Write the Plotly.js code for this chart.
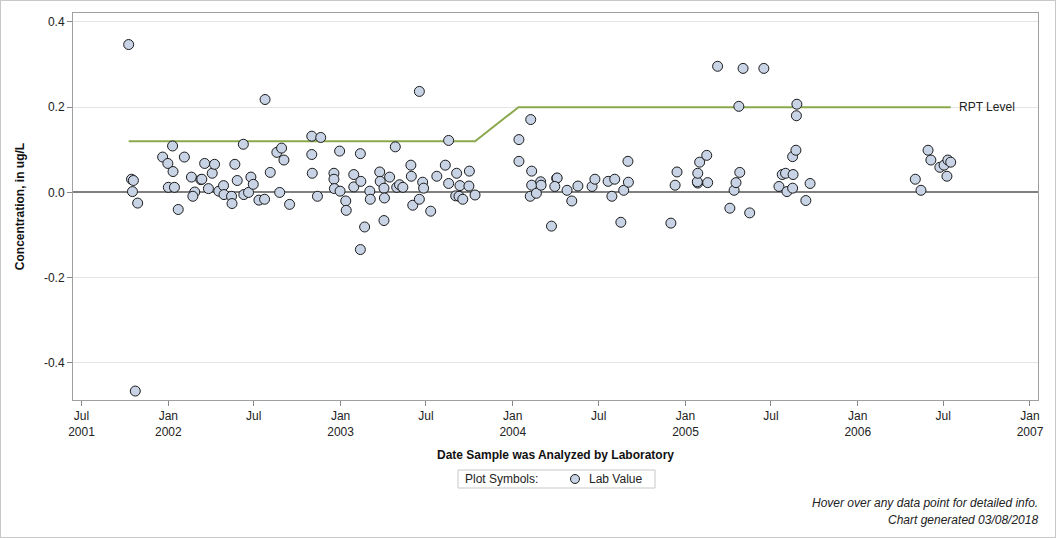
<!DOCTYPE html>
<html>
<head>
<meta charset="utf-8">
<script src="https://cdn.plot.ly/plotly-3.0.1.min.js"></script>
<style>
  html, body { margin: 0; padding: 0; background: #fff; }
  #wrap { position: relative; width: 1056px; height: 538px; }
  #chart { width: 1056px; height: 538px; }
  #frame { position: absolute; left: 0; top: 0; width: 1054px; height: 536px; border: 1px solid #c8c8c8; pointer-events: none; }
</style>
</head>
<body>
<div id="wrap"><div id="chart"></div><div id="frame"></div></div>
<script>
// Lab values (date analyzed, concentration ug/L)
const sampleDates = [
  '2001-10-09','2001-10-15','2001-10-19','2001-10-17','2001-10-28','2001-10-23',
  '2001-12-20','2001-12-31','2002-01-01','2002-01-14','2002-01-10','2002-01-11','2002-01-22',
  '2002-02-04','2002-02-19','2002-02-26','2002-02-22','2002-03-11','2002-03-13','2002-03-19',
  '2002-03-27','2002-04-04','2002-04-09','2002-04-18','2002-04-28','2002-04-29','2002-05-15',
  '2002-05-16','2002-05-22','2002-05-27','2002-06-09','2002-06-10','2002-06-20','2002-06-25',
  '2002-06-30','2002-07-12','2002-07-24','2002-07-25','2002-08-05','2002-08-19','2002-08-29',
  '2002-09-03','2002-08-25','2002-09-15','2002-11-01','2002-11-01','2002-11-02','2002-11-13',
  '2002-11-20','2002-12-18','2002-12-18','2002-12-19','2002-12-30','2002-12-31','2003-01-12',
  '2003-01-13','2003-01-29','2003-01-29','2003-02-12','2003-02-13','2003-02-12','2003-02-21',
  '2003-03-04','2003-03-05','2003-03-25','2003-03-26','2003-04-03','2003-04-04','2003-04-03',
  '2003-04-15','2003-04-27','2003-04-30','2003-05-06','2003-05-13','2003-05-30','2003-05-31',
  '2003-06-03','2003-06-17','2003-06-17','2003-06-24','2003-06-26','2003-07-11','2003-07-24',
  '2003-08-11','2003-08-18','2003-08-18','2003-09-04','2003-09-11','2003-09-02','2003-09-09',
  '2003-09-17','2003-10-01','2003-09-30','2003-10-13',
  '2004-01-14','2004-01-14','2004-02-08','2004-02-10','2004-02-10','2004-02-07','2004-02-20',
  '2004-02-29','2004-03-01','2004-03-23','2004-04-03','2004-04-04','2004-03-30','2004-04-25',
  '2004-05-05','2004-05-18','2004-06-17','2004-06-23','2004-07-21','2004-07-29','2004-08-04',
  '2004-08-17','2004-08-23','2004-09-01','2004-09-02','2004-12-01','2004-12-10','2004-12-14',
  '2005-01-27','2005-01-26','2005-01-27','2005-01-31','2005-02-15','2005-02-17','2005-03-10',
  '2005-04-05','2005-04-14','2005-04-18','2005-04-24','2005-04-26','2005-05-03','2005-05-17',
  '2005-06-16','2005-07-18','2005-07-25','2005-08-01','2005-08-04','2005-08-17','2005-08-16',
  '2005-08-16','2005-08-23','2005-08-25','2005-08-24','2005-09-13','2005-09-22',
  '2006-05-03','2006-05-15','2006-05-30','2006-06-05','2006-06-24','2006-07-03','2006-07-09',
  '2006-07-11','2006-07-17'
];
const labValues = [
  0.347,0.031,0.028,0.002,-0.025,-0.466,
  0.083,0.068,0.012,0.012,0.109,0.049,-0.040,
  0.083,0.036,0.001,-0.009,0.030,0.031,0.068,
  0.009,0.045,0.066,0.003,0.016,-0.005,-0.009,
  -0.026,0.066,0.028,0.113,-0.005,0.000,0.036,
  0.019,-0.018,-0.016,0.218,0.047,0.094,0.104,
  0.076,0.000,-0.028,0.132,0.089,0.045,-0.009,
  0.129,0.045,0.031,0.009,0.097,0.003,-0.020,
  -0.042,0.042,0.013,0.091,0.026,-0.134,-0.081,
  0.003,-0.016,0.048,0.026,0.010,-0.013,-0.066,
  0.036,0.107,0.012,0.018,0.012,0.064,0.038,
  -0.030,0.237,-0.016,0.024,0.010,-0.044,0.038,
  0.064,0.122,0.021,0.045,0.016,-0.008,-0.009,
  -0.016,0.050,0.015,-0.006,
  0.124,0.073,0.171,0.050,0.017,-0.009,-0.002,
  0.025,0.017,-0.079,0.033,0.034,0.014,0.005,
  -0.020,0.015,0.014,0.031,0.026,-0.009,0.031,
  -0.070,0.005,0.073,0.024,-0.072,0.017,0.048,
  0.022,0.025,0.045,0.071,0.087,0.023,0.296,
  -0.037,0.005,0.023,0.202,0.047,0.291,-0.048,
  0.291,0.014,0.042,0.045,0.002,0.042,0.010,
  0.084,0.099,0.207,0.180,-0.019,0.021,
  0.031,0.005,0.099,0.076,0.059,0.064,0.038,
  0.076,0.071
];
// Reporting level line
const rptDates = ['2001-10-09','2003-10-13','2004-01-13','2006-07-17'];
const rptValues = [0.12,0.12,0.2,0.2];
// Axis ticks
const xTickVals = ['2001-07-01','2002-01-01','2002-07-01','2003-01-01','2003-07-01','2004-01-01',
  '2004-07-01','2005-01-01','2005-07-01','2006-01-01','2006-07-01','2007-01-01'];
const xTickText = ['Jul<br>2001','Jan<br>2002','Jul','Jan<br>2003','Jul','Jan<br>2004',
  'Jul','Jan<br>2005','Jul','Jan<br>2006','Jul','Jan<br>2007'];
const yTickVals = [-0.4,-0.2,0,0.2,0.4];
const yTickText = ['-0.4','-0.2','0.0','0.2','0.4'];

const FONT = 'Liberation Sans, Arial, sans-serif';
const MARKER_FILL = '#c8d4e6';

const traces = [
  {
    x: rptDates, y: rptValues, type: 'scatter', mode: 'lines',
    line: {color: '#8aa84c', width: 2}, showlegend: false, hoverinfo: 'skip'
  },
  {
    x: sampleDates, y: labValues, type: 'scatter', mode: 'markers', name: 'Lab Value',
    marker: {symbol: 'circle', size: 10, color: MARKER_FILL, line: {color: '#1a1a1a', width: 1}},
    showlegend: false
  }
];

// plot area: x 73..1038 (965px), y 13..400 (387px)
const PW = 965, PH = 387;
const px = v => (v - 73) / PW;
const py = v => (400 - v) / PH;

const layout = {
  width: 1056, height: 538,
  margin: {l: 73, r: 18, t: 13, b: 138},
  paper_bgcolor: '#ffffff', plot_bgcolor: '#ffffff',
  font: {family: FONT, size: 12, color: '#222'},
  showlegend: false,
  xaxis: {
    type: 'date',
    range: ['2001-06-13', '2007-01-18'],
    tickmode: 'array', tickvals: xTickVals, ticktext: xTickText,
    ticks: 'outside', ticklen: 5, tickcolor: '#888', tickwidth: 1,
    showgrid: false, zeroline: false,
    showline: true, linecolor: '#a0a0a0', linewidth: 1, mirror: true,
    tickfont: {family: FONT, size: 12, color: '#222'},
    title: {text: 'Date Sample was Analyzed by Laboratory', standoff: 12,
      font: {family: FONT, size: 12, color: '#111', weight: 'bold'}}
  },
  yaxis: {
    range: [-0.487, 0.421],
    tickmode: 'array', tickvals: yTickVals, ticktext: yTickText,
    ticks: 'outside', ticklen: 5, tickcolor: '#888', tickwidth: 1,
    showgrid: true, gridcolor: '#e4e4e4', gridwidth: 1,
    zeroline: true, zerolinecolor: '#808080', zerolinewidth: 2,
    showline: true, linecolor: '#a0a0a0', linewidth: 1, mirror: true,
    tickfont: {family: FONT, size: 12, color: '#222'},
    title: {text: 'Concentration, in ug/L', standoff: 16,
      font: {family: FONT, size: 12, color: '#111', weight: 'bold'}}
  },
  shapes: [
    // legend box
    {type: 'rect', xref: 'paper', yref: 'paper', x0: px(458), x1: px(655), y0: py(488), y1: py(470),
     line: {color: '#c8c8c8', width: 1}, fillcolor: '#ffffff'},
    // legend symbol
    {type: 'circle', xref: 'paper', yref: 'paper', x0: px(570.5), x1: px(579.5), y0: py(483.5), y1: py(474.5),
     line: {color: '#1a1a1a', width: 1}, fillcolor: MARKER_FILL}
  ],
  annotations: [
    {x: rptDates[rptDates.length - 1], y: rptValues[rptValues.length - 1], xref: 'x', yref: 'y',
     text: 'RPT Level', showarrow: false, xanchor: 'left', yanchor: 'middle', xshift: 6,
     font: {family: FONT, size: 12, color: '#222'}},
    {x: px(463), y: py(479), xref: 'paper', yref: 'paper', xanchor: 'left', yanchor: 'middle',
     text: 'Plot Symbols:', showarrow: false, font: {family: FONT, size: 12, color: '#222'}},
    {x: px(587), y: py(479), xref: 'paper', yref: 'paper', xanchor: 'left', yanchor: 'middle',
     text: 'Lab Value', showarrow: false, font: {family: FONT, size: 12, color: '#222'}},
    {x: 1, y: py(503), xref: 'paper', yref: 'paper', xanchor: 'right', yanchor: 'middle', xshift: 2,
     text: '<i>Hover over any data point for detailed info.</i>', showarrow: false,
     font: {family: FONT, size: 12, color: '#222'}},
    {x: 1, y: py(520), xref: 'paper', yref: 'paper', xanchor: 'right', yanchor: 'middle', xshift: 2,
     text: '<i>Chart generated 03/08/2018</i>', showarrow: false,
     font: {family: FONT, size: 12, color: '#222'}}
  ],
  hovermode: 'closest'
};

Plotly.newPlot('chart', traces, layout, {displayModeBar: false, responsive: false});
</script>
</body>
</html>
